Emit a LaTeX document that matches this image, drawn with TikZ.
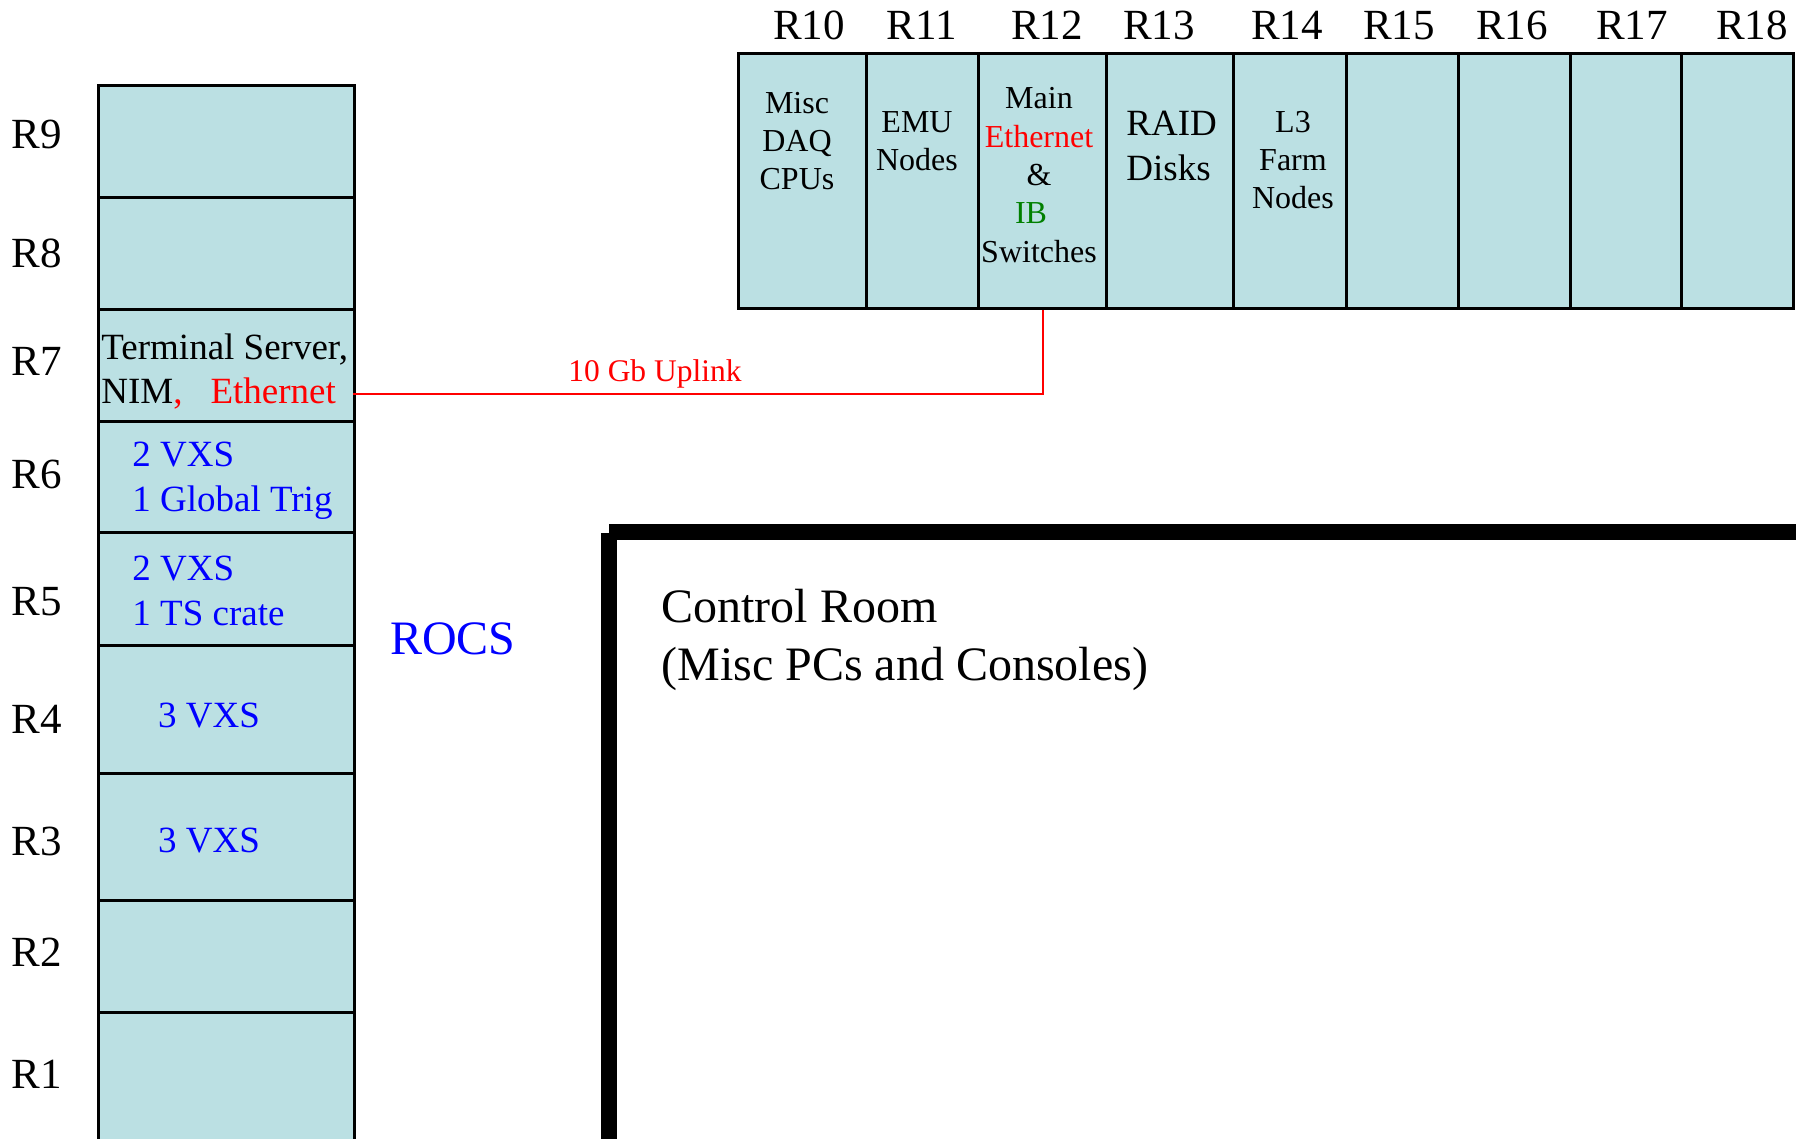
\documentclass[tikz,border=0pt]{standalone}
\usepackage{fontspec}
\setmainfont{Liberation Serif}
\usetikzlibrary{calc}
\definecolor{rackfill}{HTML}{BBE0E3}
\definecolor{ibgreen}{HTML}{008000}
\begin{document}
\begin{tikzpicture}[x=0.5pt,y=-0.5pt,
  rack/.style={draw=black, fill=rackfill, line width=1.5pt, inner sep=0pt, anchor=north west},
  lcol/.style={rack, minimum width=128pt},
  trow/.style={rack, minimum height=127.5pt},
  rlabel/.style={inner sep=0pt, font=\fontsize{21.5}{25.8}\selectfont},
  smalltxt/.style={inner sep=0pt, align=center, font=\fontsize{16}{19.2}\selectfont},
  medtxt/.style={inner sep=0pt, font=\fontsize{18.5}{22.4}\selectfont},
  bigtxt/.style={inner sep=0pt, font=\fontsize{24}{28.7}\selectfont},
  wall/.style={fill=black, draw=none}]
\useasboundingbox (0,0) rectangle (1796,1139);
\clip (0,0) rectangle (1796,1139);
\fill[white] (0,0) rectangle (1796,1139);

% left column of racks
\node[lcol, minimum height=56pt]   (r9) at (97,84)  {};
\node[lcol, minimum height=56pt]   (r8) at (97,196) {};
\node[lcol, minimum height=56pt]   (r7) at (97,308) {};
\node[lcol, minimum height=55.5pt] (r6) at (97,420) {};
\node[lcol, minimum height=56.5pt] (r5) at (97,531) {};
\node[lcol, minimum height=64pt]   (r4) at (97,644) {};
\node[lcol, minimum height=63.5pt] (r3) at (97,772) {};
\node[lcol, minimum height=56pt]   (r2) at (97,899) {};
\node[lcol, minimum height=74.5pt] (r1) at (97,1011) {};

% top row of racks
\node[trow, minimum width=64.25pt] (r10) at (736.5,52) {};
\node[trow, minimum width=56pt]    (r11) at (865,52) {};
\node[trow, minimum width=64pt]    (r12) at (977,52) {};
\node[trow, minimum width=63.5pt]  (r13) at (1105,52) {};
\node[trow, minimum width=56.5pt]  (r14) at (1232,52) {};
\node[trow, minimum width=56pt]    (r15) at (1345,52) {};
\node[trow, minimum width=56pt]    (r16) at (1457,52) {};
\node[trow, minimum width=55.5pt]  (r17) at (1569,52) {};
\node[trow, minimum width=56pt]    (r18) at (1680,52) {};

% row labels, left
\node[rlabel, anchor=west] (l9) at (11,134) {R9};
\node[rlabel, anchor=west] (l8) at (11,253) {R8};
\node[rlabel, anchor=west] (l7) at (11,361) {R7};
\node[rlabel, anchor=west] (l6) at (11,474) {R6};
\node[rlabel, anchor=west] (l5) at (11,602) {R5};
\node[rlabel, anchor=west] (l4) at (11,719) {R4};
\node[rlabel, anchor=west] (l3) at (11,841) {R3};
\node[rlabel, anchor=west] (l2) at (11,952) {R2};
\node[rlabel, anchor=west] (l1) at (11,1074) {R1};

% column labels, top
\node[rlabel] (l10) at (809,25) {R10};
\node[rlabel] (l11) at (922,25) {R11};
\node[rlabel] (l12) at (1047,25) {R12};
\node[rlabel] (l13) at (1159,25) {R13};
\node[rlabel] (l14) at (1287,25) {R14};
\node[rlabel] (l15) at (1399,26) {R15};
\node[rlabel] (l16) at (1512,25) {R16};
\node[rlabel] (l17) at (1632,25) {R17};
\node[rlabel] (l18) at (1752,25) {R18};

% top row contents
\node[smalltxt] (t10) at (797,141) {Misc\\DAQ\\CPUs};
\node[smalltxt] (t11) at (917,141) {EMU\\Nodes};
\node[smalltxt] (t12) at (1039,175) {Main\\\textcolor{red}{Ethernet}\\\&\\\textcolor{ibgreen}{IB}\kern8pt\\Switches};
\node[medtxt, align=left, anchor=west] (t13) at (1126,146) {RAID\\Disks};
\node[smalltxt] (t14) at (1293,160) {L3\\Farm\\Nodes};

% left column contents
\node[medtxt, align=left, anchor=west] (t7) at (101,371.5) {Terminal Server,\\NIM\textcolor{red}{,\hspace{14pt}Ethernet}};
\node[medtxt, align=left, anchor=west, text=blue] (t6) at (132,481) {2 VXS\\1 Global Trig};
\node[medtxt, align=left, anchor=west, text=blue] (t5) at (132,591) {2 VXS\\1 TS crate};
\node[medtxt, text=blue] (t4) at (209,716) {3 VXS};
\node[medtxt, text=blue] (t3) at (209,841) {3 VXS};

\node[bigtxt, text=blue] (rocs) at (453,639) {ROCS};

% uplink
\coordinate (upstart) at (353,394);
\draw[red, line width=1pt] (upstart) -| (r12.south);
\node[inner sep=0pt, text=red, font=\fontsize{15.75}{19}\selectfont] (uplab) at (655,373.5) {10 Gb Uplink};

% control room walls
\fill[wall] (609,524) rectangle (1800,540);
\fill[wall] (601,533) rectangle (617,1160);
\node[bigtxt, align=left, anchor=west] (ctrl) at (661,640) {Control Room\\(Misc PCs and Consoles)};
\end{tikzpicture}
\end{document}
